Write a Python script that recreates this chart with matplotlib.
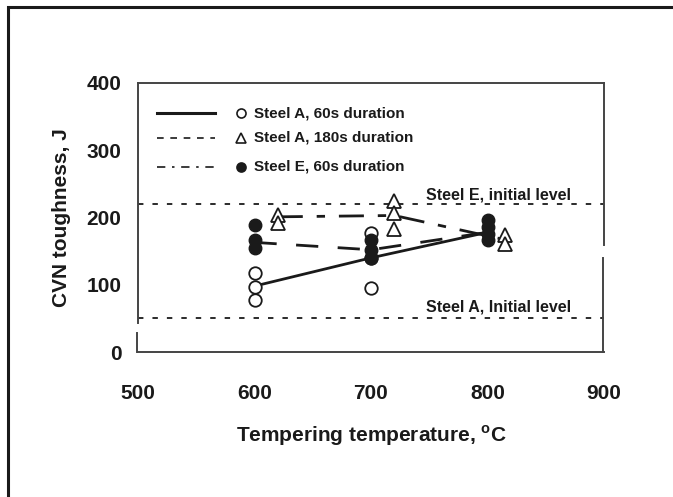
import matplotlib.pyplot as plt
from matplotlib.lines import Line2D
from matplotlib.patches import Rectangle

plt.rcParams['font.family'] = ['Liberation Sans', 'DejaVu Sans']
plt.rcParams['font.weight'] = 'bold'

# Steel A, 60 s tempering (open circles)
a60_temp = [600, 600, 600, 700, 700, 700]
a60_cvn = [117, 97, 78, 177, 140, 95]
a60_line_temp = [600, 700, 800]
a60_line_cvn = [98, 140, 178]

# Steel A, 180 s tempering (open triangles)
a180_temp = [620, 620, 720, 720, 720, 815, 815]
a180_cvn = [204, 192, 224, 207, 183, 174, 160]
a180_line_temp = [620, 720, 815]
a180_line_cvn = [201, 203, 167]

# Steel E, 60 s tempering (filled circles)
e60_temp = [600, 600, 600, 700, 700, 700, 800, 800, 800, 800]
e60_cvn = [189, 167, 155, 166, 152, 140, 196, 186, 175, 166]
e60_line_temp = [600, 700, 800]
e60_line_cvn = [163, 152, 178]

# as-received levels
steel_e_initial = 220
steel_a_initial = 50

ink = '#1a1a1a'

fig = plt.figure(figsize=(6.73, 4.97), dpi=100)
ax = fig.add_axes([138 / 673, 1 - 352 / 497, 466 / 673, 269 / 497])

# outer frame round the whole figure
fig.patches.append(Rectangle((8 / 673, -0.05), 1.1, 1 - 7 / 497 + 0.05,
                             transform=fig.transFigure, fill=False,
                             edgecolor=ink, linewidth=2.2))

ax.axhline(steel_e_initial, color=ink, lw=1.3, ls=(0, (3, 5)), clip_on=False)
ax.axhline(steel_a_initial, color=ink, lw=1.3, ls=(0, (3, 5)), clip_on=False)

ax.plot(a60_line_temp, a60_line_cvn, color=ink, lw=2.0, ls='-')
ax.plot(e60_line_temp, e60_line_cvn, color=ink, lw=2.0, ls=(0, (8, 7)))
ax.plot(a180_line_temp, a180_line_cvn, color=ink, lw=2.0, ls=(0, (9, 5, 3, 5)))

ax.plot(a60_temp, a60_cvn, ls='none', marker='o', ms=9, mfc='white',
        mec=ink, mew=1.3)
ax.plot(a180_temp, a180_cvn, ls='none', marker='^', ms=9.5, mfc='white',
        mec=ink, mew=1.3)
ax.plot(e60_temp, e60_cvn, ls='none', marker='o', ms=9, mfc=ink,
        mec=ink, mew=1.0)

ax.text(872, 233, 'Steel E, initial level', ha='right', va='center',
        fontsize=11.5, color=ink)
ax.text(872, 67, 'Steel A, Initial level', ha='right', va='center',
        fontsize=11.5, color=ink)

# legend drawn by hand inside the plot box
rows = [(0.888, '-', 'o', 'white', 'Steel A, 60s duration'),
        (0.796, (0, (4, 4)), '^', 'white', 'Steel A, 180s duration'),
        (0.688, (0, (5, 4, 1.5, 4)), 'o', ink, 'Steel E, 60s duration')]
for y, ls, mk, fc, label in rows:
    ax.add_line(Line2D([0.041, 0.165], [y, y], transform=ax.transAxes,
                       color=ink, lw=2.2 if ls == '-' else 1.2, ls=ls))
    ax.plot(0.222, y, marker=mk, ms=6.5, mfc=fc, mec=ink, mew=1.2,
            transform=ax.transAxes)
    ax.text(0.25, y, label, transform=ax.transAxes, ha='left', va='center',
            fontsize=11, color=ink)

ax.set_xlim(500, 900)
ax.set_ylim(0, 400)
ax.set_xticks([500, 600, 700, 800, 900])
ax.set_yticks([0, 100, 200, 300, 400])
ax.tick_params(length=0, labelsize=15, colors=ink)
ax.tick_params(axis='y', pad=12)
ax.tick_params(axis='x', pad=23)

# side spines with the breaks seen on the printed frame
for side in ('left', 'right'):
    ax.spines[side].set_visible(False)
for spine in ('top', 'bottom'):
    ax.spines[spine].set_color('#444444')
    ax.spines[spine].set_linewidth(1.4)
ax.plot([500, 500], [400, 43], color='#444444', lw=1.4, clip_on=False)
ax.plot([499.5, 499.5], [28, 0], color='#444444', lw=1.4, clip_on=False)
ax.plot([900, 900], [400, 159], color='#444444', lw=1.4, clip_on=False)
ax.plot([899, 899], [140, 0], color='#444444', lw=1.4, clip_on=False)

ax.set_xlabel('Tempering temperature, $^\\mathregular{o}$C', fontsize=15,
              fontweight='bold', color=ink, labelpad=15)
ax.set_ylabel('CVN toughness, J', fontsize=15, fontweight='bold',
              color=ink, labelpad=11)

fig.savefig('out.png', dpi=100)
